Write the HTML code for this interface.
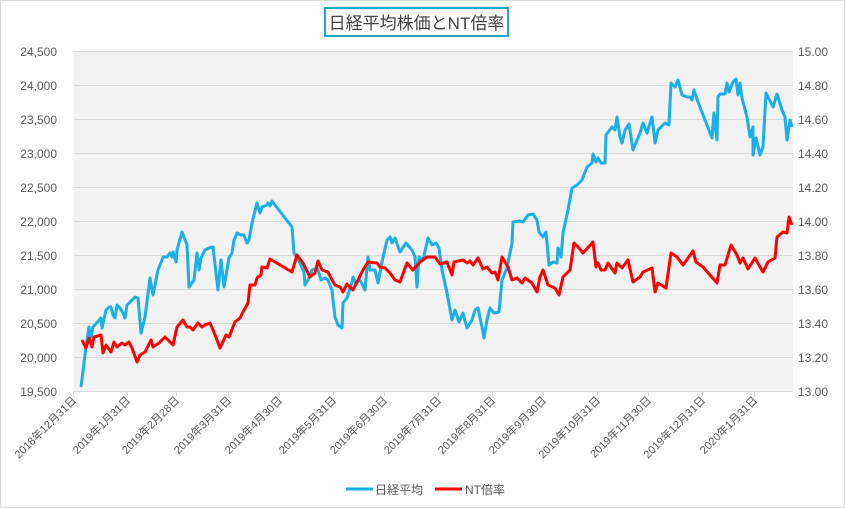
<!DOCTYPE html>
<html><head><meta charset="utf-8"><style>
body{margin:0;background:#fff}
svg{display:block;font-family:"Liberation Sans","Noto Sans CJK JP",sans-serif}
</style></head><body>
<svg width="845" height="508" viewBox="0 0 845 508">
<rect x="0.5" y="0.5" width="844" height="507" fill="#fff" stroke="#d9d9d9"/>
<rect x="74" y="51" width="719" height="340" fill="#f2f2f2"/>
<g stroke="#d9d9d9" stroke-width="1">
<line x1="74" x2="793" y1="51.5" y2="51.5"/><line x1="74" x2="793" y1="85.5" y2="85.5"/><line x1="74" x2="793" y1="119.5" y2="119.5"/><line x1="74" x2="793" y1="153.5" y2="153.5"/><line x1="74" x2="793" y1="187.5" y2="187.5"/><line x1="74" x2="793" y1="221.5" y2="221.5"/><line x1="74" x2="793" y1="255.5" y2="255.5"/><line x1="74" x2="793" y1="289.5" y2="289.5"/><line x1="74" x2="793" y1="323.5" y2="323.5"/><line x1="74" x2="793" y1="357.5" y2="357.5"/><line x1="74" x2="793" y1="391.5" y2="391.5"/>
<line x1="73.5" x2="73.5" y1="391" y2="396"/><line x1="127.5" x2="127.5" y1="391" y2="396"/><line x1="176.5" x2="176.5" y1="391" y2="396"/><line x1="228.5" x2="228.5" y1="391" y2="396"/><line x1="279.5" x2="279.5" y1="391" y2="396"/><line x1="333.5" x2="333.5" y1="391" y2="396"/><line x1="384.5" x2="384.5" y1="391" y2="396"/><line x1="438.5" x2="438.5" y1="391" y2="396"/><line x1="492.5" x2="492.5" y1="391" y2="396"/><line x1="543.5" x2="543.5" y1="391" y2="396"/><line x1="597.5" x2="597.5" y1="391" y2="396"/><line x1="648.5" x2="648.5" y1="391" y2="396"/><line x1="702.5" x2="702.5" y1="391" y2="396"/><line x1="754.5" x2="754.5" y1="391" y2="396"/>
</g>
<g font-size="12" fill="#595959" text-anchor="end">
<text x="57" y="56">24,500</text><text x="57" y="90">24,000</text><text x="57" y="124">23,500</text><text x="57" y="158">23,000</text><text x="57" y="192">22,500</text><text x="57" y="226">22,000</text><text x="57" y="260">21,500</text><text x="57" y="294">21,000</text><text x="57" y="328">20,500</text><text x="57" y="362">20,000</text><text x="57" y="396">19,500</text>
</g>
<g font-size="12" fill="#595959">
<text x="798" y="56">15.00</text><text x="798" y="90">14.80</text><text x="798" y="124">14.60</text><text x="798" y="158">14.40</text><text x="798" y="192">14.20</text><text x="798" y="226">14.00</text><text x="798" y="260">13.80</text><text x="798" y="294">13.60</text><text x="798" y="328">13.40</text><text x="798" y="362">13.20</text><text x="798" y="396">13.00</text>
</g>
<g font-size="11" fill="#595959" text-anchor="end">
<text transform="translate(77,401) rotate(-45)">2018年12月31日</text>
<text transform="translate(131,401) rotate(-45)">2019年1月31日</text>
<text transform="translate(180,401) rotate(-45)">2019年2月28日</text>
<text transform="translate(232,401) rotate(-45)">2019年3月31日</text>
<text transform="translate(283,401) rotate(-45)">2019年4月30日</text>
<text transform="translate(337,401) rotate(-45)">2019年5月31日</text>
<text transform="translate(388,401) rotate(-45)">2019年6月30日</text>
<text transform="translate(442,401) rotate(-45)">2019年7月31日</text>
<text transform="translate(496,401) rotate(-45)">2019年8月31日</text>
<text transform="translate(547,401) rotate(-45)">2019年9月30日</text>
<text transform="translate(601,401) rotate(-45)">2019年10月31日</text>
<text transform="translate(652,401) rotate(-45)">2019年11月30日</text>
<text transform="translate(706,401) rotate(-45)">2019年12月31日</text>
<text transform="translate(758,401) rotate(-45)">2020年1月31日</text>
</g>
<polyline fill="none" stroke="#1aafe6" stroke-width="3" stroke-linejoin="round" points="81,387 86,347 89,327 91,337 93,327 101,318 102,328 106,310 109,307 111,307 113,315 115,318 117,305 120,308 123,313 125,318 127,305 132,300 135,297 138,298 141,333 145,317 150,278 153,295 158,270 162,260 163,257 167,257 170,253 172,257 173,252 176,262 177,250 182,232 187,245 189,287 194,280 197,253 199,270 201,258 205,250 209,248 213,247 218,290 221,260 224,287 229,258 232,253 234,240 237,233 241,235 244,235 247,243 249,240 252,223 257,203 260,213 262,207 267,205 268,203 270,206 272,201 275,205 292,227 294,253 300,263 304,272 305,285 308,280 312,270 317,268 318,270 321,280 325,278 328,280 332,290 333,300 335,317 338,325 342,328 343,303 347,298 352,282 353,277 356,283 360,280 365,290 368,257 370,270 375,270 378,283 382,262 387,240 390,237 392,243 395,238 400,252 406,243 412,250 415,257 417,287 419,257 423,260 428,238 432,245 436,243 439,248 442,270 447,293 452,320 455,310 459,322 463,313 467,328 472,320 475,310 478,308 482,327 484,338 487,320 490,308 494,313 499,312 502,280 507,268 512,243 513,222 520,221 523,222 528,215 533,214 535,217 537,220 539,232 543,237 546,232 549,265 553,262 557,263 558,248 561,257 563,233 568,210 572,188 577,185 582,180 587,167 592,163 593,154 596,162 598,158 601,163 605,163 606,135 612,127 615,130 617,117 620,137 622,143 625,130 629,124 633,150 640,133 643,123 647,133 652,117 655,143 658,130 665,123 669,125 671,83 675,87 678,80 682,95 687,97 690,97 692,100 694,90 698,102 705,120 712,138 714,113 717,140 718,97 720,94 725,94 727,83 729,92 733,82 736,79 738,95 740,83 742,98 747,117 750,137 753,127 753,155 756,138 760,155 763,147 766,93 773,107 777,94 782,110 785,117 787,140 790,120 792,127"/>
<polyline fill="none" stroke="#f00" stroke-width="3" stroke-linejoin="round" points="82,340 86,348 89,338 92,347 94,337 101,335 103,353 106,345 111,352 114,342 117,347 122,343 125,345 129,342 132,348 137,362 140,355 145,352 151,340 153,347 159,343 165,337 170,342 173,345 177,327 183,320 187,327 190,327 193,330 198,323 202,327 205,325 210,323 213,330 217,340 220,348 226,335 229,337 235,322 240,318 243,312 248,303 250,285 255,285 257,278 261,275 262,267 267,268 270,259 292,272 297,255 303,263 305,267 310,277 315,273 318,261 322,270 328,272 332,280 335,285 340,287 343,292 347,284 353,290 358,280 363,270 368,262 377,263 380,267 385,268 390,273 395,280 400,282 407,263 413,270 420,262 427,257 435,257 440,264 447,262 452,275 454,262 463,260 467,263 470,261 473,265 478,258 483,269 487,267 492,273 495,272 498,280 502,257 508,267 512,280 517,278 522,283 525,278 532,283 537,292 540,277 543,270 548,285 555,288 559,295 563,277 570,270 574,243 578,247 583,253 593,242 596,267 598,263 601,270 605,270 608,263 615,273 617,263 622,268 628,260 633,282 640,277 643,272 652,268 655,292 658,283 666,288 671,253 677,257 683,265 693,251 696,262 703,267 717,283 720,265 725,265 731,245 737,255 740,263 743,258 748,269 755,258 763,272 768,262 775,258 777,237 783,232 787,233 789,217 792,225"/>
<rect x="325" y="8" width="183" height="28" fill="#fff" stroke="#22a7c9" stroke-width="2"/>
<text x="416.5" y="29" font-size="17" fill="#404040" text-anchor="middle">日経平均株価とNT倍率</text>
<line x1="346" x2="373" y1="489" y2="489" stroke="#1aafe6" stroke-width="3"/>
<text x="375" y="494" font-size="12" fill="#595959">日経平均</text>
<line x1="435" x2="462" y1="489" y2="489" stroke="#f00" stroke-width="3"/>
<text x="465" y="494" font-size="12" fill="#595959">NT倍率</text>
</svg>
</body></html>
